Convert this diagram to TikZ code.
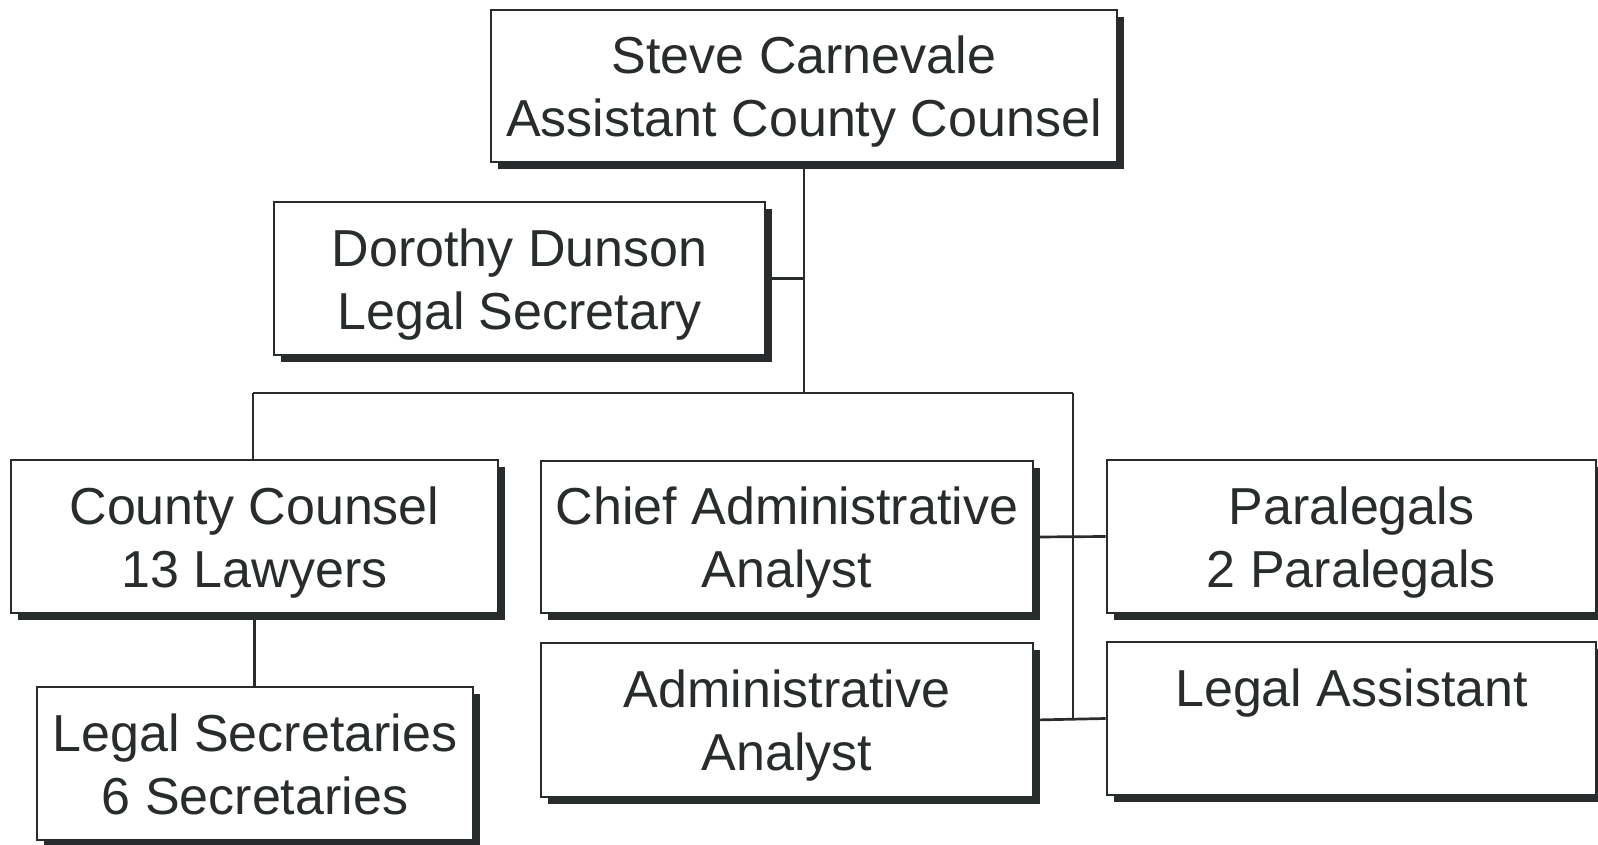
\documentclass[tikz,border=0pt]{standalone}
\usepackage{fontspec}
\setmainfont{Liberation Sans}
\usetikzlibrary{shadows}
\definecolor{ink}{RGB}{40,44,44}
\newcommand{\lnstrut}{\rule[-12pt]{0pt}{62.4pt}}
\tikzset{
  orgbox/.style={draw=ink, line width=2.7pt, fill=white, text=ink, align=center,
    inner sep=0pt, font=\fontsize{52}{63}\selectfont,
    drop shadow={shadow xshift=7pt, shadow yshift=-7pt, fill=ink, opacity=1}},
  link/.style={draw=ink, line width=2.7pt}
}
\begin{document}
\begin{tikzpicture}[x=1pt,y=-1pt]
\useasboundingbox (0,0) rectangle (1598,844);
\fill[white] (0,0) rectangle (1598,844);
\node[orgbox, minimum width=626, minimum height=152] (top) at (804,86)
  {\lnstrut Steve Carnevale\\\lnstrut Assistant County Counsel};
\node[orgbox, minimum width=491, minimum height=153] (dunson) at (519.5,278.5)
  {\lnstrut Dorothy Dunson\\\lnstrut Legal Secretary};
\node[orgbox, minimum width=487, minimum height=153] (cc) at (254.5,536.5)
  {\lnstrut County Counsel\\\lnstrut 13 Lawyers};
\node[orgbox, minimum width=436, minimum height=153] (ls) at (255,763.5)
  {\lnstrut Legal Secretaries\\\lnstrut 6 Secretaries};
\node[orgbox, minimum width=492, minimum height=152] (chief) at (787,537)
  {\lnstrut Chief Administrative\\\lnstrut Analyst};
\node[orgbox, minimum width=492, minimum height=154] (admin) at (787,720)
  {\lnstrut Administrative\\\lnstrut Analyst};
\node[orgbox, minimum width=489, minimum height=153] (para) at (1351.5,536.5)
  {\lnstrut Paralegals\\\lnstrut 2 Paralegals};
\node[orgbox, minimum width=489, minimum height=153] (la) at (1351.5,718.5)
  {\lnstrut Legal Assistant\\\lnstrut};
\coordinate (j1) at (804,393);
\coordinate (j2) at (253,393);
\coordinate (j3) at (1073,393);
\draw[link] (top.south) -- (j1);
\draw[link] (dunson.east) -- (dunson.east -| j1);
\draw[link] (j2) -- (j3);
\draw[link] (j2) -- (j2 |- cc.north);
\draw[link] (cc.south) -- (cc.south |- ls.north);
\draw[link] (j3) -- (j3 |- admin.east);
\draw[link] (chief.east) -- (para.west);
\draw[link] (admin.east) -- (la.west);
\end{tikzpicture}
\end{document}
